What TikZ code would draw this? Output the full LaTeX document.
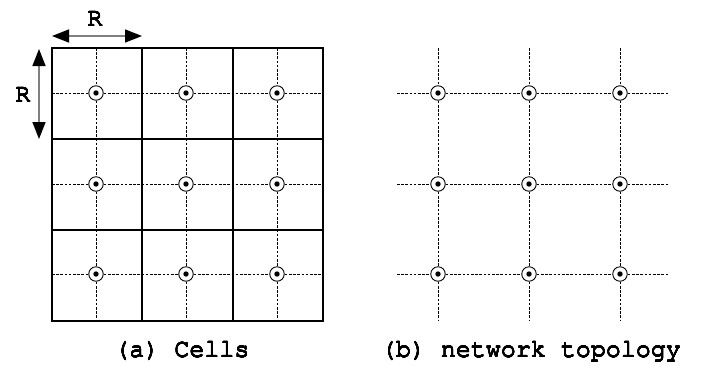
\documentclass[tikz,border=0pt]{standalone}
\usepackage[T1]{fontenc}
\usepackage{courier}
\usepackage[copies]{contour}
\usetikzlibrary{arrows.meta}

\contourlength{0.25pt}
\newcommand{\heavytt}[1]{\contour[16]{black}{#1}}

\tikzset{
  sensor/.style={circle,draw,fill=white,line width=0.9pt,
    minimum size=14.5pt,inner sep=0pt,
    path picture={\fill[black] (path picture bounding box.center) circle [radius=2.7pt];}},
  link/.style={line width=0.9pt,dash pattern=on 2.6pt off 1.6pt},
  cellline/.style={line width=1.15pt},
  measure/.style={draw=gray,line width=1.6pt,
    {Triangle[length=17pt,width=13pt,color=black]}-{Triangle[length=17pt,width=13pt,color=black]}},
  ttlabel/.style={font=\fontsize{25}{30}\selectfont\ttfamily,inner sep=0pt,anchor=base}
}

\begin{document}
\begin{tikzpicture}[x=1pt,y=-1pt]
  \useasboundingbox
    (0,0)
    rectangle
    (701,365);
% cells
  \coordinate (at1) at (96,48);
  \coordinate (at2) at (186,48);
  \coordinate (at3) at (277,48);
  \coordinate (ab1) at (96,321);
  \coordinate (ab2) at (186,321);
  \coordinate (ab3) at (277,321);
  \coordinate (al1) at (52,93);
  \coordinate (al2) at (52,184);
  \coordinate (al3) at (52,274);
  \coordinate (ar1) at (323,93);
  \coordinate (ar2) at (323,184);
  \coordinate (ar3) at (323,274);
  \node[sensor] (a11) at (96,93) {};
  \node[sensor] (a12) at (186,93) {};
  \node[sensor] (a13) at (277,93) {};
  \node[sensor] (a21) at (96,184) {};
  \node[sensor] (a22) at (186,184) {};
  \node[sensor] (a23) at (277,184) {};
  \node[sensor] (a31) at (96,274) {};
  \node[sensor] (a32) at (186,274) {};
  \node[sensor] (a33) at (277,274) {};
  \draw[link]
    (al1) -- (a11) -- (a12) -- (a13) -- (ar1);
  \draw[link]
    (al2) -- (a21) -- (a22) -- (a23) -- (ar2);
  \draw[link]
    (al3) -- (a31) -- (a32) -- (a33) -- (ar3);
  \draw[link]
    (at1) -- (a11) -- (a21) -- (a31) -- (ab1);
  \draw[link]
    (at2) -- (a12) -- (a22) -- (a32) -- (ab2);
  \draw[link]
    (at3) -- (a13) -- (a23) -- (a33) -- (ab3);
  \draw[cellline]
    (52,48)
    rectangle
    (323,321);
  \draw[cellline]
    (142,48) -- (142,321)
    (233,48) -- (233,321)
    (52,139) -- (323,139)
    (52,230) -- (323,230);
% cell size
  \coordinate (rh1) at (52,36);
  \coordinate (rh2) at (142,36);
  \coordinate (rv1) at (39,49);
  \coordinate (rv2) at (39,139);
  \draw[measure]
    (rh1) -- (rh2);
  \draw[measure]
    (rv1) -- (rv2);
  \node[ttlabel] (rh) at (95,26) {\heavytt{R}};
  \node[ttlabel] (rv) at (23,102) {\heavytt{R}};
% network
  \coordinate (bt1) at (438,48);
  \coordinate (bt2) at (529,48);
  \coordinate (bt3) at (620,48);
  \coordinate (bb1) at (438,321);
  \coordinate (bb2) at (529,321);
  \coordinate (bb3) at (620,321);
  \coordinate (bl1) at (397,93);
  \coordinate (bl2) at (397,184);
  \coordinate (bl3) at (397,274);
  \coordinate (br1) at (668,93);
  \coordinate (br2) at (668,184);
  \coordinate (br3) at (668,274);
  \node[sensor] (b11) at (438,93) {};
  \node[sensor] (b12) at (529,93) {};
  \node[sensor] (b13) at (620,93) {};
  \node[sensor] (b21) at (438,184) {};
  \node[sensor] (b22) at (529,184) {};
  \node[sensor] (b23) at (620,184) {};
  \node[sensor] (b31) at (438,274) {};
  \node[sensor] (b32) at (529,274) {};
  \node[sensor] (b33) at (620,274) {};
  \draw[link]
    (bl1) -- (b11) -- (b12) -- (b13) -- (br1);
  \draw[link]
    (bl2) -- (b21) -- (b22) -- (b23) -- (br2);
  \draw[link]
    (bl3) -- (b31) -- (b32) -- (b33) -- (br3);
  \draw[link]
    (bt1) -- (b11) -- (b21) -- (b31) -- (bb1);
  \draw[link]
    (bt2) -- (b12) -- (b22) -- (b32) -- (bb2);
  \draw[link]
    (bt3) -- (b13) -- (b23) -- (b33) -- (bb3);
% captions
  \node[ttlabel] (capa) at (182,357) {\heavytt{(a) Cells}};
  \node[ttlabel] (capb) at (531,357) {\heavytt{(b) network topology}};
\end{tikzpicture}
\end{document}
